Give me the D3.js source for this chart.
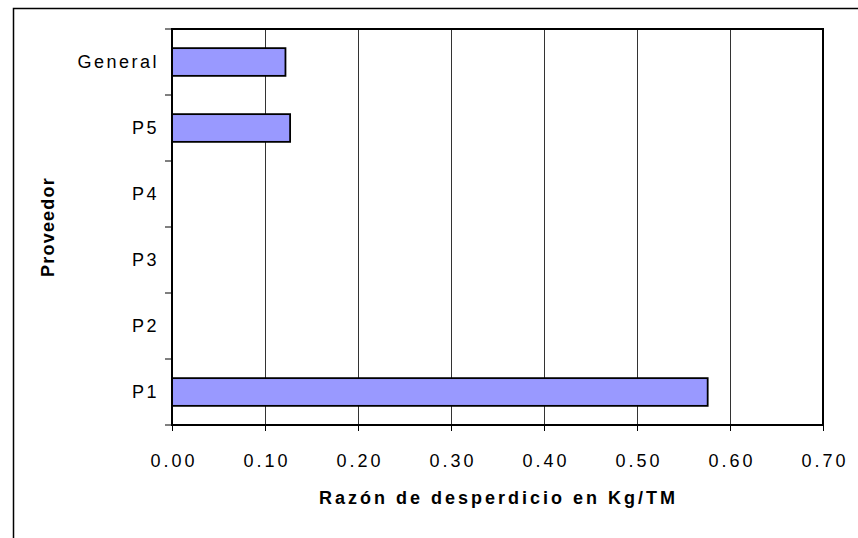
<!DOCTYPE html>
<html><head><meta charset="utf-8">
<script src="https://cdn.jsdelivr.net/npm/d3@7"></script>
<style>body{margin:0;background:#fff}svg{display:block}</style>
</head><body>
<svg id="c" width="858" height="538"></svg>
<script>
const categories = ["P1","P2","P3","P4","P5","General"];
const values = [0.576, null, null, null, 0.127, 0.122];
const xTicks = [0,0.1,0.2,0.3,0.4,0.5,0.6,0.7];
const xTitle = "Razón de desperdicio en Kg/TM";
const yTitle = "Proveedor";

const svg = d3.select("#c");
const L=172, R=823, T=29, B=425;
const font = "'Liberation Sans', Arial, sans-serif";

svg.append("rect").attr("x",13.5).attr("y",8.5).attr("width",900).attr("height",600)
  .attr("fill","#fff").attr("stroke","#000").attr("stroke-width",1.5);

const x = d3.scaleLinear().domain([0,0.7]).range([L,R]);
const y = d3.scaleBand().domain(categories.slice().reverse()).range([T,B]).paddingInner(0.58).paddingOuter(0.29);
const yb = d3.scaleBand().domain(categories.slice().reverse()).range([T,B]);

// gridlines
svg.append("g").selectAll("line").data(xTicks.slice(1,-1)).join("line")
  .attr("x1",d=>Math.round(x(d))+0.5).attr("x2",d=>Math.round(x(d))+0.5)
  .attr("y1",T).attr("y2",B).attr("stroke","#333").attr("stroke-width",1);

// bars
svg.append("g").selectAll("rect").data(categories.map((c,i)=>({c,v:values[i]})).filter(d=>d.v!=null)).join("rect")
  .attr("x",x(0)).attr("y",d=>y(d.c)).attr("width",d=>x(d.v)-x(0)).attr("height",y.bandwidth())
  .attr("fill","#9999FF").attr("stroke","#000").attr("stroke-width",1.8);

// plot border
svg.append("rect").attr("x",L).attr("y",T).attr("width",R-L).attr("height",B-T)
  .attr("fill","none").attr("stroke","#000").attr("stroke-width",2);

// x axis
const xa = svg.append("g").attr("transform",`translate(0,${B})`)
  .call(d3.axisBottom(x).tickValues(xTicks).tickFormat(d3.format(".2f")).tickSize(6));
xa.select(".domain").remove();
xa.selectAll("line").attr("stroke","#000");
xa.selectAll("text").attr("font-family",font).attr("font-size",18).attr("fill","#000")
  .attr("letter-spacing","3px").attr("dx","1.5").attr("dy","0.34em").attr("y",36);

// y axis
const ya = svg.append("g").attr("transform",`translate(${L},0)`)
  .call(d3.axisLeft(yb).tickSize(0).tickPadding(13));
ya.select(".domain").remove();
ya.selectAll("text").attr("font-family",font).attr("font-size",18).attr("fill","#000").attr("letter-spacing","2.5px");
// y ticks at band boundaries
const bounds = categories.map(c=>yb(c)).concat([B]);
svg.append("g").selectAll("line").data(bounds).join("line")
  .attr("x1",L-7).attr("x2",L).attr("y1",d=>d).attr("y2",d=>d).attr("stroke","#000").attr("stroke-width",1);

// titles
svg.append("text").attr("x",498.5).attr("y",498).attr("text-anchor","middle").attr("dy","0.35em")
  .attr("font-family",font).attr("font-size",18).attr("font-weight","bold").attr("letter-spacing","3px").text(xTitle);
svg.append("text").attr("transform","translate(48,227) rotate(-90)").attr("text-anchor","middle").attr("dy","0.35em")
  .attr("font-family",font).attr("font-size",18).attr("font-weight","bold").attr("letter-spacing","1.2px").text(yTitle);
</script>
</body></html>
